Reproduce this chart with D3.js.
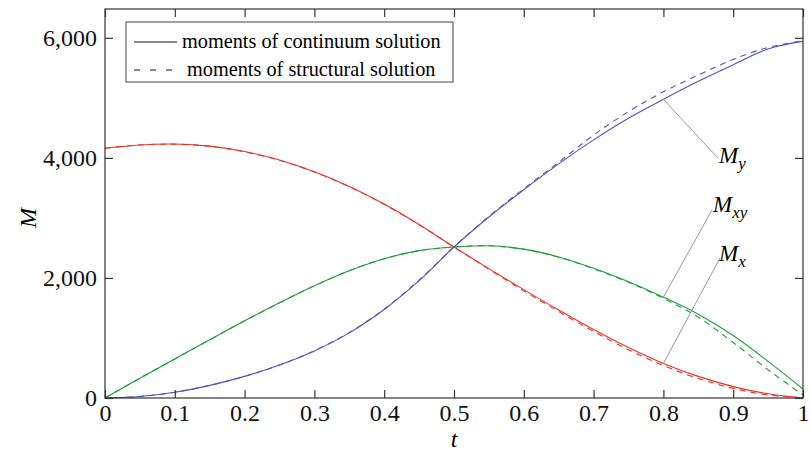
<!DOCTYPE html>
<html>
<head>
<meta charset="utf-8">
<script src="https://cdn.jsdelivr.net/npm/d3@7"></script>
<style>
	body { margin: 0; background: #fff; }
	svg { display: block; font-family: "Liberation Serif", "DejaVu Serif", serif; }
	.axis path { display: none; }
	.axis line { stroke: #333; stroke-width: 1.2; }
	.axis text { font-size: 24px; fill: #111; font-family: "Liberation Serif", serif; }
</style>
</head>
<body>
<svg width="810" height="457"></svg>
<script>

	// t values (every 0.05)
	var t_values = [0, 0.05, 0.1, 0.15, 0.2, 0.25, 0.3, 0.35, 0.4, 0.45, 0.5,
		0.55, 0.6, 0.65, 0.7, 0.75, 0.8, 0.85, 0.9, 0.95, 1];

	// moments of continuum solution
	var mx_continuum  = [4160, 4215, 4230, 4195, 4105, 3965, 3770, 3525, 3230, 2890, 2515,
		2155, 1805, 1465, 1140, 840, 575, 360, 190, 70, 0];
	var mxy_continuum = [0, 330, 650, 970, 1285, 1585, 1870, 2120, 2320, 2455, 2515,
		2535, 2480, 2350, 2160, 1935, 1680, 1395, 1040, 610, 150];
	var my_continuum  = [0, 25, 95, 210, 360, 550, 785, 1085, 1475, 1955, 2515,
		3015, 3470, 3900, 4300, 4660, 4975, 5275, 5550, 5815, 5940];

	// moments of structural solution
	var mx_structural  = [4160, 4215, 4228, 4192, 4100, 3960, 3765, 3520, 3225, 2885, 2515,
		2145, 1785, 1440, 1110, 805, 540, 325, 160, 50, 0];
	var mxy_structural = [0, 330, 650, 970, 1285, 1585, 1870, 2120, 2320, 2455, 2515,
		2535, 2478, 2345, 2152, 1928, 1660, 1345, 925, 470, 50];
	var my_structural  = [0, 25, 95, 210, 360, 550, 788, 1090, 1482, 1965, 2520,
		3025, 3485, 3925, 4380, 4770, 5100, 5380, 5640, 5840, 5950];

	var x_ticks = [0, 0.1, 0.2, 0.3, 0.4, 0.5, 0.6, 0.7, 0.8, 0.9, 1];
	var y_ticks = [0, 2000, 4000, 6000];

	var legend_labels = ["moments of continuum solution", "moments of structural solution"];

	var colors = { mx: "#e8342a", mxy: "#1f9e35", my: "#5056b6" };

	var svg = d3.select("svg");
	var margin = { left: 105, right: 7, top: 9, bottom: 59 },
		width = 810 - margin.left - margin.right,
		height = 457 - margin.top - margin.bottom;

	var x = d3.scaleLinear().domain([0, 1]).range([margin.left, margin.left + width]);
	var y = d3.scaleLinear().domain([0, 6480]).range([margin.top + height, margin.top]);

	function make_series(values){
		return values.map(function(v, i){ return { t: t_values[i], m: v }; });
	}

	var line = d3.line()
		.x(function(d){ return x(d.t); })
		.y(function(d){ return y(d.m); })
		.curve(d3.curveCatmullRom.alpha(0.5));

	var series = [
		{ key: "mx", values: mx_continuum, dashed: false },
		{ key: "mxy", values: mxy_continuum, dashed: false },
		{ key: "my", values: my_continuum, dashed: false },
		{ key: "mx", values: mx_structural, dashed: true },
		{ key: "mxy", values: mxy_structural, dashed: true },
		{ key: "my", values: my_structural, dashed: true }
	];

	var plot = svg.append("g");
	plot.selectAll("path")
		.data(series)
		.enter()
		.append("path")
		.attr("fill", "none")
		.attr("stroke", function(d){ return colors[d.key]; })
		.attr("stroke-width", 1.1)
		.attr("stroke-dasharray", function(d){ return d.dashed ? "6,5" : null; })
		.attr("d", function(d){ return line(make_series(d.values)); });

	// axes, ticks pointing inward on all four sides
	svg.append("g").attr("class", "axis")
		.attr("transform", "translate(0," + (margin.top + height) + ")")
		.call(d3.axisBottom(x).tickValues(x_ticks).tickSizeInner(-8).tickSizeOuter(0)
			.tickPadding(6).tickFormat(d3.format("~g")));

	svg.append("g").attr("class", "axis")
		.attr("transform", "translate(0," + margin.top + ")")
		.call(d3.axisTop(x).tickValues(x_ticks).tickSizeInner(-8).tickSizeOuter(0).tickFormat(""));

	svg.append("g").attr("class", "axis")
		.attr("transform", "translate(" + margin.left + ",0)")
		.call(d3.axisLeft(y).tickValues(y_ticks).tickSizeInner(-8).tickSizeOuter(0)
			.tickPadding(8).tickFormat(d3.format(",")));

	svg.append("g").attr("class", "axis")
		.attr("transform", "translate(" + (margin.left + width) + ",0)")
		.call(d3.axisRight(y).tickValues(y_ticks).tickSizeInner(-8).tickSizeOuter(0).tickFormat(""));

	svg.append("rect")
		.attr("x", margin.left).attr("y", margin.top)
		.attr("width", width).attr("height", height)
		.attr("fill", "none").attr("stroke", "#333").attr("stroke-width", 1.2);

	// axis titles
	svg.append("text")
		.attr("x", x(0.5)).attr("y", 447)
		.attr("text-anchor", "middle")
		.style("font-size", "24px").style("font-style", "italic")
		.text("t");

	svg.append("text")
		.attr("transform", "translate(36," + y(3000) + ") rotate(-90)")
		.attr("text-anchor", "middle")
		.style("font-size", "24px").style("font-style", "italic")
		.text("M");

	// curve labels with leader lines from t = 0.8
	var labels = [
		{ key: "my", sub: "y", values: my_continuum, lx: 718, ly: 158, tx: 719, ty: 163 },
		{ key: "mxy", sub: "xy", values: mxy_continuum, lx: 712, ly: 210, tx: 713, ty: 212 },
		{ key: "mx", sub: "x", values: mx_continuum, lx: 720, ly: 258, tx: 719, ty: 261 }
	];
	var i08 = t_values.indexOf(0.8);

	labels.forEach(function(l){
		svg.append("line")
			.attr("x1", x(0.8)).attr("y1", y(l.values[i08]))
			.attr("x2", l.lx).attr("y2", l.ly)
			.attr("stroke", "#9a9a9a").attr("stroke-width", 1);

		var txt = svg.append("text")
			.attr("x", l.tx).attr("y", l.ty)
			.style("font-style", "italic").style("font-size", "23px");
		txt.append("tspan").text("M");
		txt.append("tspan").attr("dy", 6).style("font-size", "17px").text(l.sub);
	});

	// legend
	var legend = svg.append("g");
	legend.append("rect")
		.attr("x", 126).attr("y", 22).attr("width", 327).attr("height", 60)
		.attr("fill", "#fff").attr("stroke", "#444").attr("stroke-width", 1);

	legend.append("line")
		.attr("x1", 134).attr("x2", 177).attr("y1", 42).attr("y2", 42)
		.attr("stroke", "#111").attr("stroke-width", 1.1);
	legend.append("line")
		.attr("x1", 134).attr("x2", 172).attr("y1", 70).attr("y2", 70)
		.attr("stroke", "#111").attr("stroke-width", 1.1)
		.attr("stroke-dasharray", "6,10");

	legend.selectAll("text.leg")
		.data(legend_labels)
		.enter()
		.append("text")
		.attr("class", "leg")
		.attr("x", function(d, i){ return i ? 187 : 182; })
		.attr("y", function(d, i){ return i ? 76 : 48; })
		.style("font-size", "20.3px")
		.text(function(d){ return d; });

</script>
</body>
</html>
